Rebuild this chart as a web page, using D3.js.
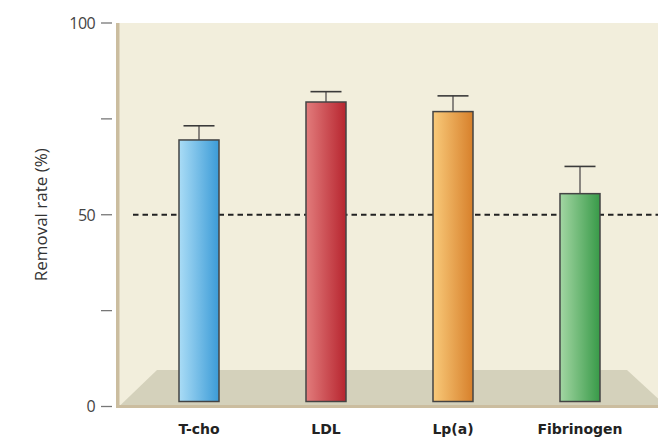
<!DOCTYPE html>
<html>
<head>
<meta charset="utf-8">
<script src="https://cdn.jsdelivr.net/npm/d3@7"></script>
<style>
  body { margin: 0; background: #fff; }
  svg { display: block; font-family: "Open Sans", "DejaVu Sans", sans-serif; }
</style>
</head>
<body>
<svg id="chart" width="658" height="442"></svg>
<script>
// values
const categories = ["T-cho", "LDL", "Lp(a)", "Fibrinogen"];
const removal = [69.5, 79.4, 76.9, 55.5];
const errorTop = [73.2, 82.1, 81.0, 62.6];
const yTicks = [0, 25, 50, 75, 100];
const yTickLabels = ["0", "", "50", "", "100"];
const threshold = 50;

const barColors = [
  ["#aadcf6", "#3b9bd7"],
  ["#e27c7c", "#b7252f"],
  ["#f9ca7a", "#d7802b"],
  ["#a3d6a3", "#389a48"]
];

const width = 658;
const height = 442;
const plot = { left: 119, right: 658, top: 23, bottom: 406.5 };

const svg = d3.select("#chart");

let y = d3.scaleLinear()
    .domain([0, 100])
    .range([plot.bottom, plot.top]);

let x = d3.scaleBand()
    .domain(categories)
    .range([135.5, 643.5])
    .paddingInner(0.685)
    .paddingOuter(0.3425);

// gradients for the bars
const defs = svg.append("defs");
categories.forEach((c, i) => {
  const g = defs.append("linearGradient")
      .attr("id", "grad" + i)
      .attr("x1", "0%").attr("x2", "100%")
      .attr("y1", "0%").attr("y2", "0%");
  g.append("stop").attr("offset", "0%").attr("stop-color", barColors[i][0]);
  g.append("stop").attr("offset", "100%").attr("stop-color", barColors[i][1]);
});

// background panel
svg.append("rect")
    .attr("x", plot.left)
    .attr("y", plot.top)
    .attr("width", plot.right - plot.left)
    .attr("height", plot.bottom - plot.top)
    .style("fill", "#f2eedc");

// floor
const floorTop = y(9.5);
svg.append("path")
    .attr("d", `M${plot.left},${plot.bottom} L157,${floorTop} L627,${floorTop} L658,${plot.bottom - 8} L658,${plot.bottom} Z`)
    .style("fill", "#d4d1bb");

// left wall and bottom edge
svg.append("rect")
    .attr("x", 116).attr("y", plot.top)
    .attr("width", 3.5).attr("height", plot.bottom - plot.top + 1)
    .style("fill", "#cbbd9f");

svg.append("rect")
    .attr("x", 116).attr("y", plot.bottom - 1.5)
    .attr("width", width - 116).attr("height", 3)
    .style("fill", "#cbbd9f");

// 50% reference line
svg.append("line")
    .attr("x1", 133)
    .attr("x2", width)
    .attr("y1", y(threshold))
    .attr("y2", y(threshold))
    .style("stroke", "#222")
    .style("stroke-width", "1.8px")
    .style("stroke-dasharray", "5.5,4");

// error bars
const errs = svg.append("g").attr("id", "errors");
errs.selectAll("line.stem")
    .data(categories)
    .join("line")
    .attr("class", "stem")
    .attr("x1", d => x(d) + x.bandwidth() / 2)
    .attr("x2", d => x(d) + x.bandwidth() / 2)
    .attr("y1", (d, i) => y(removal[i]))
    .attr("y2", (d, i) => y(errorTop[i]))
    .style("stroke", "#8a8680")
    .style("stroke-width", "2px");

errs.selectAll("line.cap")
    .data(categories)
    .join("line")
    .attr("class", "cap")
    .attr("x1", d => x(d) + x.bandwidth() / 2 - 15.5)
    .attr("x2", d => x(d) + x.bandwidth() / 2 + 15.5)
    .attr("y1", (d, i) => y(errorTop[i]))
    .attr("y2", (d, i) => y(errorTop[i]))
    .style("stroke", "#3a3a3a")
    .style("stroke-width", "1.6px");

// bars
svg.append("g")
    .attr("id", "bars")
    .selectAll("rect")
    .data(categories)
    .join("rect")
    .attr("x", d => x(d))
    .attr("width", x.bandwidth())
    .attr("y", (d, i) => y(removal[i]))
    .attr("height", (d, i) => y(0) - 5 - y(removal[i]))
    .style("fill", (d, i) => `url(#grad${i})`)
    .style("stroke", "#444")
    .style("stroke-width", "1.5px");

// y axis ticks
const yAxis = svg.append("g").attr("class", "y axis");
yAxis.selectAll("line")
    .data(yTicks)
    .join("line")
    .attr("x1", 101)
    .attr("x2", 112)
    .attr("y1", d => y(d))
    .attr("y2", d => y(d))
    .style("stroke", "#777")
    .style("stroke-width", "1.3px");

yAxis.selectAll("text")
    .data(yTicks)
    .join("text")
    .attr("x", 95)
    .attr("y", d => y(d))
    .attr("dy", "0.36em")
    .attr("text-anchor", "end")
    .style("fill", "#444")
    .style("font-size", "16px")
    .style("letter-spacing", "-0.6px")
    .text((d, i) => yTickLabels[i]);

svg.append("text")
    .attr("transform", `translate(47,${y(50)}) rotate(-90)`)
    .attr("text-anchor", "middle")
    .style("fill", "#333")
    .style("font-size", "17px")
    .text("Removal rate (%)");

// category labels
svg.append("g")
    .attr("class", "x labels")
    .selectAll("text")
    .data(categories)
    .join("text")
    .attr("x", d => x(d) + x.bandwidth() / 2)
    .attr("y", 434)
    .attr("text-anchor", "middle")
    .style("fill", "#222")
    .style("font-family", "'DejaVu Sans', sans-serif")
    .style("font-size", "14px")
    .style("font-weight", "bold")
    .text(d => d);
</script>
</body>
</html>
